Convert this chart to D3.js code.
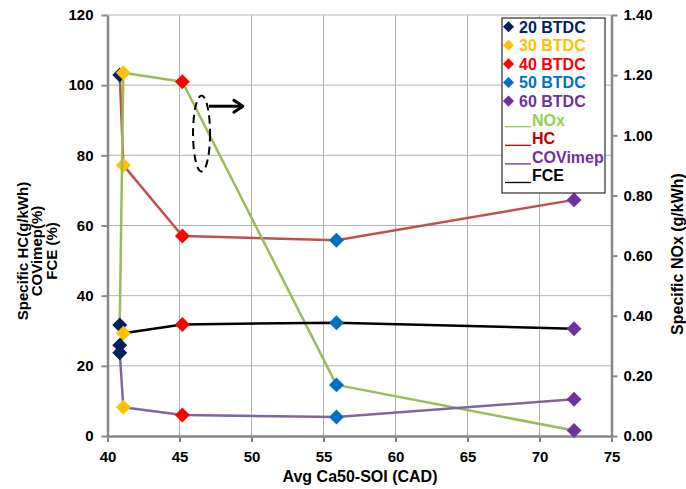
<!DOCTYPE html>
<html>
<head>
<meta charset="utf-8">
<script src="https://cdn.jsdelivr.net/npm/d3@7"></script>
<style>
  html, body { margin: 0; padding: 0; background: #fff; }
  svg { display: block; }
  text { font-family: "Liberation Sans", Arial, sans-serif; font-weight: bold; }
</style>
</head>
<body>
<svg id="chart" width="686" height="489"></svg>
<script>
// ---------------- data ----------------
const btdc = ["20 BTDC", "30 BTDC", "40 BTDC", "50 BTDC", "60 BTDC"];
const ca50 = [40.85, 41.1, 45.2, 55.9, 72.4];          // Avg Ca50-SOI (CAD)
const hc = [102.9, 77.2, 57.0, 55.8, 67.3];            // Specific HC (g/kWh)
const covimep = [23.7, 8.2, 6.0, 5.4, 10.5];           // COVimep (%)
const fce = [25.9, 29.3, 31.8, 32.3, 30.6];            // FCE (%)
const nox = [0.369, 1.208, 1.178, 0.170, 0.018];       // Specific NOx (g/kWh), right axis
const xTicks = [40, 45, 50, 55, 60, 65, 70, 75];
const yLeftTicks = [0, 20, 40, 60, 80, 100, 120];
const yRightTicks = [0, 0.2, 0.4, 0.6, 0.8, 1.0, 1.2, 1.4];
const lineNames = ["NOx", "HC", "COVimep", "FCE"];

// ---------------- styles ----------------
const markerColors = ["#002060", "#FFC000", "#FF0000", "#0070C0", "#7030A0"];
const lineColors = { NOx: "#9BBB59", HC: "#C0504D", COVimep: "#8064A2", FCE: "#000000" };
const legendLineColors = { NOx: "#92D050", HC: "#C00000", COVimep: "#7030A0", FCE: "#000000" };

const svg = d3.select("#chart");
const L = 107.5, R = 611.5, T = 15, B = 436;

const x = d3.scaleLinear().domain([40, 75]).range([L, R]);
const yL = d3.scaleLinear().domain([0, 120]).range([B, T]);
const yR = d3.scaleLinear().domain([0, 1.4]).range([B, T]);

// gridlines
const grid = svg.append("g");
grid.selectAll("line.h").data(yLeftTicks.filter(d => d > 0)).join("line")
  .attr("x1", L).attr("x2", R).attr("y1", d => yL(d)).attr("y2", d => yL(d))
  .attr("stroke", "#b3b3b3").attr("stroke-width", 1);
grid.selectAll("line.v").data(xTicks.filter(d => d > 40 && d < 75)).join("line")
  .attr("class", "v")
  .attr("x1", d => x(d)).attr("x2", d => x(d)).attr("y1", T).attr("y2", B)
  .attr("stroke", "#b3b3b3").attr("stroke-width", 1);

// axes
function styleAxis(g) {
  g.selectAll("path.domain").attr("stroke", "#888").attr("stroke-width", 2.5);
  g.selectAll(".tick line").attr("stroke", "#888").attr("stroke-width", 2);
  g.selectAll(".tick text").attr("fill", "#000").style("font-size", "15px")
    .style("font-family", '"Liberation Sans", Arial, sans-serif').style("font-weight", "bold");
}
svg.append("g").attr("transform", `translate(${L},0)`)
  .call(d3.axisLeft(yL).tickValues(yLeftTicks).tickSize(6).tickSizeOuter(0).tickPadding(8).tickFormat(d3.format("d")))
  .call(styleAxis);
svg.append("g").attr("transform", `translate(${R},0)`)
  .call(d3.axisRight(yR).tickValues(yRightTicks).tickSize(6).tickSizeOuter(0).tickPadding(6).tickFormat(d3.format(".2f")))
  .call(styleAxis);
svg.append("g").attr("transform", `translate(0,${B})`)
  .call(d3.axisBottom(x).tickValues(xTicks).tickSize(6).tickSizeOuter(0).tickPadding(9).tickFormat(d3.format("d")))
  .call(styleAxis);

// series
const series = {
  HC: { vals: hc, y: yL },
  NOx: { vals: nox, y: yR },
  FCE: { vals: fce, y: yL },
  COVimep: { vals: covimep, y: yL }
};
const order = ["HC", "NOx", "FCE", "COVimep"];
const diamond = d3.symbol().type(d3.symbolSquare).size(112);
order.forEach(name => {
  const s = series[name];
  const pts = ca50.map((cx, i) => ({ cx, v: s.vals[i], i }));
  const line = d3.line().x(d => x(d.cx)).y(d => s.y(d.v));
  svg.append("path").datum(pts).attr("d", line)
    .attr("fill", "none").attr("stroke", lineColors[name]).attr("stroke-width", 2.5)
    .attr("stroke-linejoin", "round");
  svg.append("g").selectAll("path").data(pts).join("path")
    .attr("d", diamond)
    .attr("transform", d => `translate(${x(d.cx)},${s.y(d.v)}) rotate(45)`)
    .attr("fill", d => markerColors[d.i]);
});

// annotation: dashed ellipse and arrow
const ann = { x: 46.53, y: 86.2, arrowY: 94.0, arrowX0: 47.05, arrowX1: 49.4 };
svg.append("ellipse")
  .attr("cx", x(ann.x)).attr("cy", yL(ann.y)).attr("rx", 8.5).attr("ry", 38)
  .attr("fill", "none").attr("stroke", "#000").attr("stroke-width", 2)
  .attr("stroke-dasharray", "8,5");
const ay = yL(ann.arrowY), ax0 = x(ann.arrowX0), ax1 = x(ann.arrowX1);
svg.append("line").attr("x1", ax0).attr("x2", ax1 - 2).attr("y1", ay).attr("y2", ay)
  .attr("stroke", "#000").attr("stroke-width", 3);
svg.append("path")
  .attr("d", `M${ax1 - 9},${ay - 6} L${ax1},${ay} L${ax1 - 9},${ay + 6}`)
  .attr("fill", "none").attr("stroke", "#000").attr("stroke-width", 3)
  .attr("stroke-linecap", "round").attr("stroke-linejoin", "round");

// legend
const lg = svg.append("g");
lg.append("rect").attr("x", 502).attr("y", 18).attr("width", 103).attr("height", 175)
  .attr("fill", "#fff").attr("stroke", "#000").attr("stroke-width", 1);
const rowY = i => 26.7 + i * 18.6;
const legDiamond = d3.symbol().type(d3.symbolSquare).size(62);
btdc.forEach((name, i) => {
  lg.append("path").attr("d", legDiamond)
    .attr("transform", `translate(508.5,${rowY(i)}) rotate(45)`)
    .attr("fill", markerColors[i]);
  lg.append("text").attr("x", 519).attr("y", rowY(i) + 5.8)
    .style("font-size", "16px").attr("fill", markerColors[i]).text(name);
});
lineNames.forEach((name, j) => {
  const yy = rowY(5 + j);
  lg.append("line").attr("x1", 505).attr("x2", 531).attr("y1", yy + 7).attr("y2", yy + 7)
    .attr("stroke", legendLineColors[name]).attr("stroke-width", 1.3);
  lg.append("text").attr("x", 532).attr("y", yy + 5.8)
    .style("font-size", "16px").attr("fill", legendLineColors[name]).text(name);
});

// axis titles
svg.append("text").attr("x", 360).attr("y", 482).attr("text-anchor", "middle")
  .style("font-size", "16px").text("Avg Ca50-SOI (CAD)");
const ytl = ["Specific HC(g/kWh)", "COVimep(%)", "FCE (%)"];
ytl.forEach((t, i) => {
  svg.append("text").attr("transform", `translate(${27.5 + i * 14.5},251) rotate(-90)`)
    .attr("text-anchor", "middle").style("font-size", "15px").text(t);
});
svg.append("text").attr("transform", `translate(683,254) rotate(-90)`)
  .attr("text-anchor", "middle").style("font-size", "16px").text("Specific NOx (g/kWh)");
</script>
</body>
</html>
